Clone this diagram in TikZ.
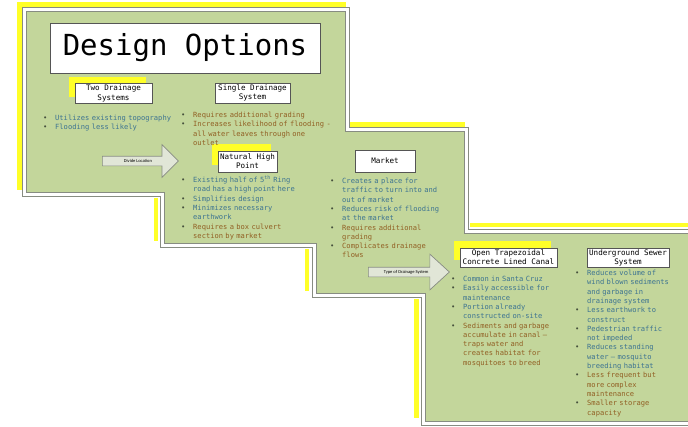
\documentclass[tikz,border=0pt]{standalone}
\usepackage{fontspec}
\setmonofont{DejaVu Sans Mono}
\newfontfamily\arrowfont{Carlito}
\usetikzlibrary{shapes,arrows,positioning,calc}

\definecolor{panelgreen}{RGB}{195,214,155}
\definecolor{framegrey}{RGB}{135,140,130}
\definecolor{boxgrey}{RGB}{85,85,85}
\definecolor{hiliteyellow}{RGB}{255,255,40}
\definecolor{problue}{RGB}{60,115,145}
\definecolor{conbrown}{RGB}{145,95,35}
\definecolor{dotgrey}{RGB}{70,80,60}
\definecolor{arrowfill}{RGB}{225,230,215}

% one bullet point, pro (blue) or con (brown)
\newcommand{\proitem}[1]{\noindent\hangindent=12pt\hangafter=1\makebox[12pt][l]{\textcolor{dotgrey}{\textbullet}}\textcolor{problue}{#1}\par}
\newcommand{\conitem}[1]{\noindent\hangindent=12pt\hangafter=1\makebox[12pt][l]{\textcolor{dotgrey}{\textbullet}}\textcolor{conbrown}{#1}\par}

\begin{document}
\begin{tikzpicture}[x=1pt, y=-1pt]
    % Styles
    \tikzset{
        hilite/.style={draw=hiliteyellow, line width=4.5pt},
        outerframe/.style={draw=framegrey, fill=white, line width=1pt},
        innerframe/.style={draw=framegrey, fill=panelgreen, line width=0.9pt},
        titlebox/.style={draw=boxgrey, fill=white, line width=0.8pt, minimum width=270pt, minimum height=50pt, font=\ttfamily\fontsize{29}{32}\selectfont},
        header/.style={draw=boxgrey, fill=white, line width=0.8pt, inner sep=1pt, align=center, minimum height=20pt, font=\ttfamily\fontsize{7.6}{9.2}\selectfont},
        lit/.style={preaction={fill=hiliteyellow, draw=none, transform canvas={xshift=-6pt, yshift=7pt}}},
        bullets/.style={anchor=base west, inner sep=0pt, text width=210pt, align=left, font=\ttfamily\fontsize{7.1}{9.3}\selectfont},
        blockarrow/.style={single arrow, draw=framegrey, fill=arrowfill, line width=0.7pt, anchor=tail, inner ysep=2.5pt, inner xsep=2pt, text height=3pt, text depth=1pt, font=\arrowfont\fontsize{4.5}{5}\selectfont}
    }
    \useasboundingbox (0,0) rectangle (688,426);
    \clip (0,0) rectangle (688,426);

    % Yellow edges of the slides
    \draw[hilite] (17,4.5) -- (346,4.5);
    \draw[hilite] (19.5,2.5) -- (19.5,190);
    \draw[hilite] (350,124.5) -- (465,124.5);
    \draw[hilite] (156,198) -- (156,241);
    \draw[hilite] (307,249) -- (307,291);
    \draw[hilite] (470,225) -- (695,225);
    \draw[hilite] (416.5,299) -- (416.5,418);

    % Staircase of slides
    \draw[outerframe] (22,7) -- (349,7) -- (349,127) -- (468,127) -- (468,229) -- (695,229) -- (695,425)
        -- (421,425) -- (421,297) -- (312,297) -- (312,247) -- (160,247) -- (160,196) -- (22,196) -- cycle;
    \draw[innerframe] (26,11) -- (345,11) -- (345,131) -- (464,131) -- (464,233) -- (695,233) -- (695,421)
        -- (425,421) -- (425,293) -- (316,293) -- (316,243) -- (164,243) -- (164,192) -- (26,192) -- cycle;

    % Title
    \node[titlebox] (title) at (185,48) {Design Options};

    % Headers
    \node[header, lit, minimum width=77pt] (twosys) at (113.5,93.5) {Two Drainage\\Systems};
    \node[header, minimum width=75pt] (singlesys) at (252.5,93) {Single Drainage\\System};
    \node[header, lit, minimum width=59pt, minimum height=21pt] (highpoint) at (247.5,161.5) {Natural High\\Point};
    \node[header, minimum width=60pt, minimum height=22pt] (market) at (385,161) {Market};
    \node[header, lit, minimum width=97pt, minimum height=19pt] (canal) at (508.5,257.5) {Open Trapezoidal\\Concrete Lined Canal};
    \node[header, minimum width=82pt, minimum height=19pt] (sewer) at (628,257.5) {Underground Sewer\\System};

    % Block arrows
    \node[blockarrow, minimum height=76pt, single arrow head extend=11.5pt, single arrow tip angle=90] (divide) at (102,161) {Divide Location};
    \node[blockarrow, minimum height=81pt, single arrow head extend=13pt, single arrow tip angle=85] (drainagetype) at (368,272) {Type of Drainage System};

    % Bullet lists
    \node[bullets] (twolist) at (43,120) {\proitem{Utilizes existing topography}\proitem{Flooding less likely}};
    \node[bullets] (singlelist) at (181,117.5) {\conitem{Requires additional grading}\conitem{Increases likelihood of flooding -\newline all water leaves through one\newline outlet}};
    \node[bullets] (highpointlist) at (181,182.5) {\proitem{Existing half of 5\textsuperscript{th} Ring\newline road has a high point here}\proitem{Simplifies design}\proitem{Minimizes necessary\newline earthwork}\conitem{Requires a box culvert\newline section by market}};
    \node[bullets] (marketlist) at (330,183.5) {\proitem{Creates a place for\newline traffic to turn into and\newline out of market}\proitem{Reduces risk of flooding\newline at the market}\conitem{Requires additional\newline grading}\conitem{Complicates drainage\newline flows}};
    \node[bullets] (canallist) at (451,281.5) {\proitem{Common in Santa Cruz}\proitem{Easily accessible for\newline maintenance}\proitem{Portion already\newline constructed on-site}\conitem{Sediments and garbage\newline accumulate in canal –\newline traps water and\newline creates habitat for\newline mosquitoes to breed}};
    \node[bullets] (sewerlist) at (575,275.5) {\proitem{Reduces volume of\newline wind blown sediments\newline and garbage in\newline drainage system}\proitem{Less earthwork to\newline construct}\proitem{Pedestrian traffic\newline not impeded}\proitem{Reduces standing\newline water – mosquito\newline breeding habitat}\conitem{Less frequent but\newline more complex\newline maintenance}\conitem{Smaller storage\newline capacity}};
\end{tikzpicture}
\end{document}
